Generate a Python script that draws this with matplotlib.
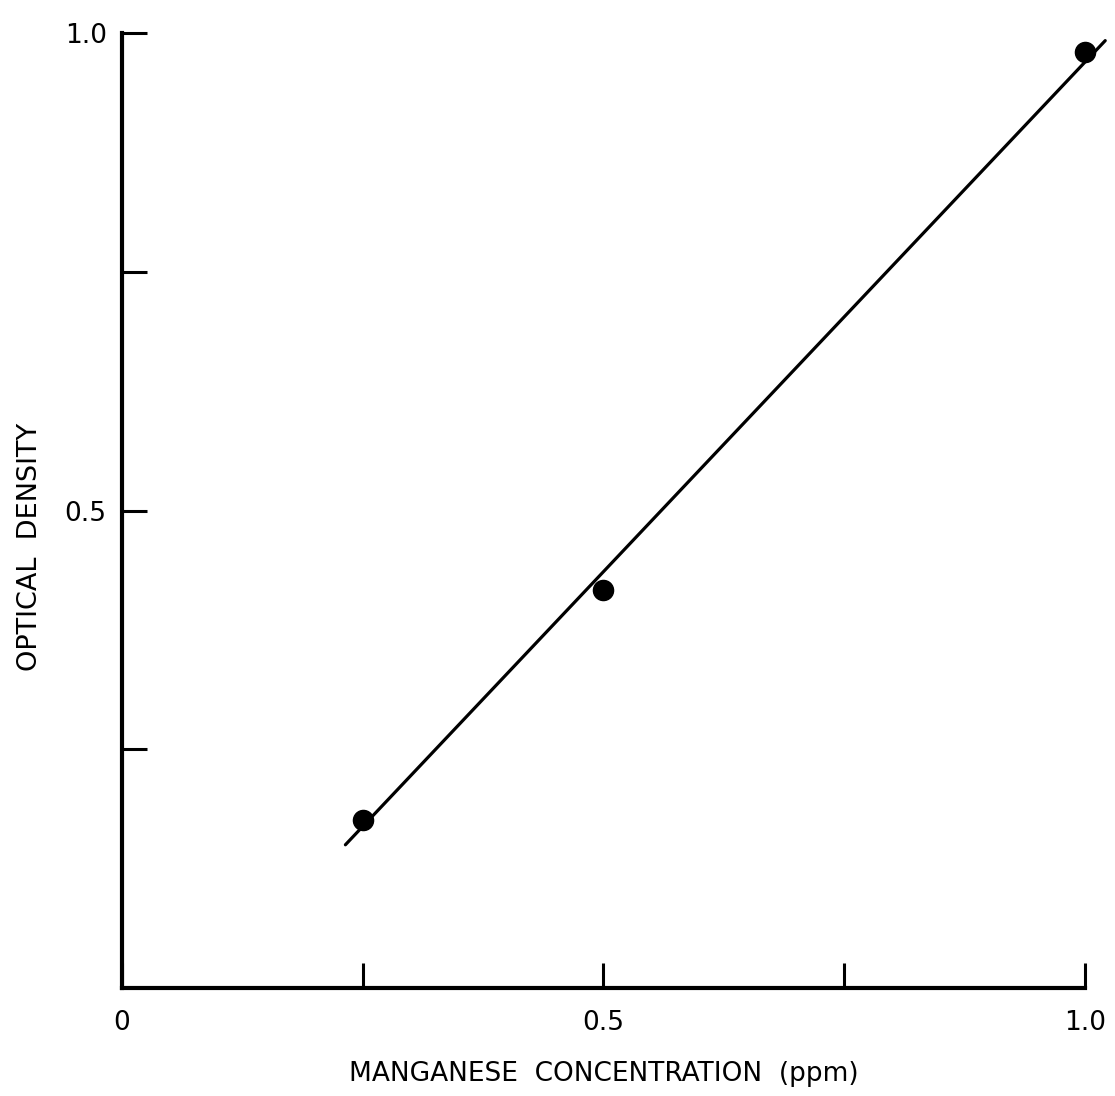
import matplotlib as mpl
mpl.use('Agg')
import matplotlib.pyplot as plt
import numpy as np

# measured points (concentration in ppm, optical density)
conc = [0.25, 0.5, 1.0]
density = [0.176, 0.417, 0.980]

# hand drawn calibration line end points
line_conc = [0.232, 1.021]
line_density = [0.150, 0.992]

x_major = [0, 0.5, 1.0]
x_major_labels = ['0', '0.5', '1.0']
x_minor = [0.25, 0.75]
y_major = [0.5, 1.0]
y_major_labels = ['0.5', '1.0']
y_minor = [0.25, 0.75]

plt.rcParams['font.family'] = ['DejaVu Sans']

fig = plt.figure(figsize=(11.15, 10.96), dpi=100)
ax = fig.add_axes([0.1094, 0.0985, 0.8637, 0.8714])

ax.plot(line_conc, line_density, color='black', linewidth=2.3, clip_on=False,
        solid_capstyle='round')
ax.plot(conc, density, 'o', color='black', markersize=14.5, clip_on=False)

ax.set_xlim(0, 1.0)
ax.set_ylim(0, 1.0)

for side in ['top', 'right']:
    ax.spines[side].set_visible(False)
for side in ['left', 'bottom']:
    ax.spines[side].set_linewidth(3)

ax.set_xticks(x_major)
ax.set_xticklabels(x_major_labels, fontsize=19)
ax.set_xticks(x_minor, minor=True)
ax.set_yticks(y_major)
ax.set_yticklabels(y_major_labels, fontsize=19)
ax.set_yticks(y_minor, minor=True)

ax.tick_params(axis='both', which='both', direction='in', length=18, width=2.2)
ax.tick_params(axis='x', which='major', pad=16)
ax.tick_params(axis='y', which='major', pad=11)

ax.set_xlabel('MANGANESE  CONCENTRATION  (ppm)', fontsize=19)
ax.xaxis.set_label_coords(0.5, -0.076)
ax.set_ylabel('OPTICAL  DENSITY', fontsize=19.5)
ax.yaxis.set_label_coords(-0.082, 0.462)

fig.savefig('out.png', dpi=100)
